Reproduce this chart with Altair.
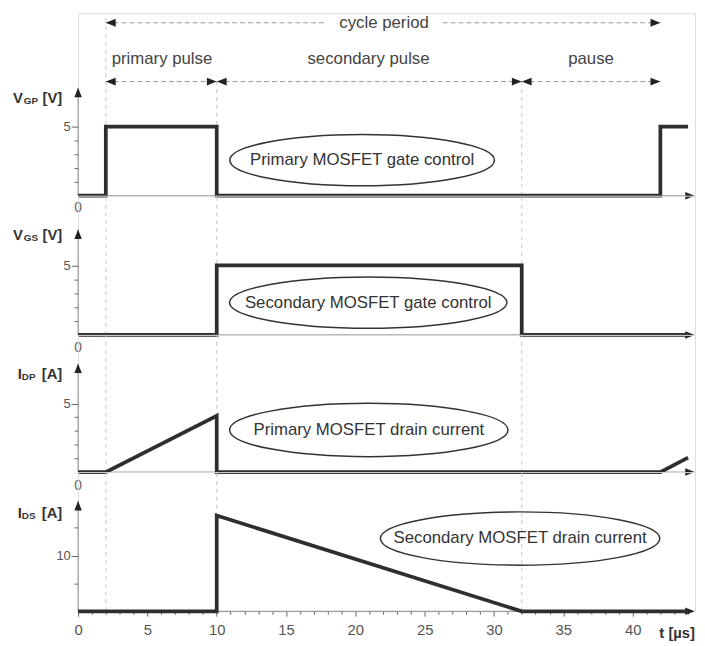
import altair as alt
import pandas as pd

FONT = "Liberation Sans"
X_MAX = 44.5
X_AXIS_END = 44.3
X_TICKS = list(range(0, 45))

# ---- signal waveforms (time in microseconds) ----
vgp_t = [0, 2, 2, 10, 10, 42, 42, 44]
vgp_v = [0, 0, 5, 5, 0, 0, 5, 5]
vgs_t = [0, 10, 10, 32, 32, 44]
vgs_v = [0, 0, 5, 5, 0, 0]
idp_t = [0, 2, 10, 10, 42, 44]
idp_a = [0, 0, 4.1, 0, 0, 1.05]
ids_t = [0, 10, 10, 32, 44]
ids_a = [0, 0, 17.2, 0, 0]

# ---- timing phases (header) ----
phase_edges = [2, 10, 32, 42]
phase_names = ["primary pulse", "secondary pulse", "pause"]
phase_label_x = [6.05, 20.95, 37.0]
cycle_name = "cycle period"
cycle_label_x = 22.07
cycle_gap = [17.8, 26.3]
hdr_cycle_y = 12.5
hdr_text_y = 9.85
hdr_phase_y = 8.25

# ---- panels ----
panel_ymax = [13.2, 10, 10, 25]
panel_height = [185, 141, 139, 141]
panel_ytip = [7.8, 7.57, 7.9, 19.8]
panel_yticks = [[1, 2, 3, 4, 5], [1, 2, 3, 4, 5], [1, 2, 3, 4, 5], [5, 10, 15]]
panel_ymajor = [5, 5, 5, 10]
panel_sym = ["V", "V", "I", "I"]
panel_sub = ["GP", "GS", "DP", "DS"]
panel_unit = ["[V]", "[V]", "[A]", "[A]"]
panel_label_y = [7.07, 7.14, 7.17, 17.68]
panel_note = ["Primary MOSFET gate control", "Secondary MOSFET gate control",
              "Primary MOSFET drain current", "Secondary MOSFET drain current"]
note_x = [20.49, 20.93, 20.97, 31.88]
note_y = [2.57, 2.32, 3.07, 13.07]
note_w = [268, 281, 282, 283]
note_h = [52, 52, 54, 54]
guide_x = [2, 10, 32]
guide_top_p1 = [12.9, 8.6, 8.6]

signals = [(vgp_t, vgp_v), (vgs_t, vgs_v), (idp_t, idp_a), (ids_t, ids_a)]

RIGHT = "M0,0L-2,-0.8L-2,0.8Z"
LEFT = "M0,0L2,-0.8L2,0.8Z"
UP = "M0,0L-0.8,2L0.8,2Z"


def ellipse_path(w, h):
    r = h / w
    k = 0.5523
    f = lambda v: f"{v:.4f}"
    return (f"M-1,0C-1,{f(-k*r)} {f(-k)},{f(-r)} 0,{f(-r)}"
            f"C{f(k)},{f(-r)} 1,{f(-k*r)} 1,0"
            f"C1,{f(k*r)} {f(k)},{f(r)} 0,{f(r)}"
            f"C{f(-k)},{f(r)} -1,{f(k*r)} -1,0Z")


def make_panel(k):
    ymax = panel_ymax[k]
    xs = alt.Scale(domain=[0, X_MAX], nice=False, zero=False)
    ys = alt.Scale(domain=[0, ymax], nice=False, zero=True)
    if k == 3:
        ax = alt.Axis(values=X_TICKS, labelExpr="datum.value % 5 == 0 ? datum.label : ''",
                      domain=False, grid=False, tickColor="#666",
                      tickSize={"condition": {"test": "datum.value % 5 == 0", "value": 5}, "value": 3},
                      labelFontSize=15, labelColor="#555", labelPadding=7, labelFlush=False,
                      labelOverlap=False, labelFont=FONT)
    else:
        ax = None
    major = panel_ymajor[k]
    ay = alt.Axis(values=panel_yticks[k], labelExpr=f"datum.value == {major} ? datum.label : ''",
                  domain=False, grid=False, tickColor="#666",
                  tickSize={"condition": {"test": f"datum.value == {major}", "value": 7}, "value": 4},
                  labelFontSize=13, labelColor="#555", labelPadding=1, labelOverlap=False,
                  labelFont=FONT)
    X = alt.X("x:Q", scale=xs, axis=ax, title=None)
    Y = alt.Y("y:Q", scale=ys, axis=ay, title=None)
    layers = []

    tops = guide_top_p1 if k == 0 else [ymax] * len(guide_x)
    g = pd.DataFrame({"x": guide_x, "y": [0] * len(guide_x), "y2": tops})
    layers.append(alt.Chart(g).mark_rule(color="#c4c4c4", strokeDash=[4, 4], strokeWidth=1)
                  .encode(x=X, y=Y, y2="y2:Q"))

    ytip = panel_ytip[k]
    axes = pd.DataFrame({"x": [0, 0], "y": [0, 0], "x2": [X_AXIS_END, 0], "y2": [0, ytip]})
    layers.append(alt.Chart(axes).mark_rule(color="#8a8a8a", strokeWidth=1)
                  .encode(x=X, y=Y, x2="x2:Q", y2="y2:Q"))
    layers.append(alt.Chart(pd.DataFrame({"x": [X_MAX - 0.03], "y": [0]}))
                  .mark_point(shape=RIGHT, size=90, filled=True, color="#222", opacity=1)
                  .encode(x=X, y=Y))
    layers.append(alt.Chart(pd.DataFrame({"x": [0], "y": [ytip]}))
                  .mark_point(shape=UP, size=90, filled=True, color="#222", opacity=1)
                  .encode(x=X, y=Y))

    t, v = signals[k]
    sig = pd.DataFrame({"x": t, "y": v, "i": list(range(len(t)))})
    layers.append(alt.Chart(sig).mark_line(color="#2e2e2e", strokeWidth=3.8, strokeJoin="miter")
                  .encode(x=X, y=Y, order="i:Q"))

    note = pd.DataFrame({"x": [note_x[k]], "y": [note_y[k]], "t": [panel_note[k]]})
    layers.append(alt.Chart(note).mark_point(shape=ellipse_path(note_w[k], note_h[k]),
                                             size=note_w[k] ** 2, filled=False, color="#333",
                                             strokeWidth=1.5, opacity=1)
                  .encode(x=X, y=Y))
    layers.append(alt.Chart(note).mark_text(font=FONT, fontSize=17, color="#333",
                                            align="center", baseline="middle")
                  .encode(x=X, y=Y, text="t:N"))

    lab = pd.DataFrame({"x": [0], "y": [panel_label_y[k]], "s": [panel_sym[k]],
                        "b": [panel_sub[k]], "u": [panel_unit[k]]})
    is_v = panel_sym[k] == "V"
    sym_dx = -66 if is_v else -61
    sub_dx = -55 if is_v else -57
    layers.append(alt.Chart(lab).mark_text(font=FONT, fontSize=15, fontWeight="bold", color="#333",
                                           align="left", baseline="middle", dx=sym_dx)
                  .encode(x=X, y=Y, text="s:N"))
    layers.append(alt.Chart(lab).mark_text(font=FONT, fontSize=10, fontWeight="bold", color="#333",
                                           align="left", baseline="middle", dx=sub_dx, dy=3)
                  .encode(x=X, y=Y, text="b:N"))
    layers.append(alt.Chart(lab).mark_text(font=FONT, fontSize=15, fontWeight="bold", color="#333",
                                           align="right", baseline="middle", dx=-16)
                  .encode(x=X, y=Y, text="u:N"))

    if k < 3:
        z = pd.DataFrame({"x": [0], "y": [0], "t": ["0"]})
        layers.append(alt.Chart(z).mark_text(font=FONT, fontSize=14, color="#666",
                                             align="center", baseline="middle",
                                             dy=13 if k < 2 else 14)
                      .encode(x=X, y=Y, text="t:N"))
    else:
        tl = pd.DataFrame({"x": [X_MAX], "y": [0], "t": ["t [µs]"]})
        layers.append(alt.Chart(tl).mark_text(font=FONT, fontSize=15, fontWeight="bold", color="#333",
                                              align="right", baseline="middle", dy=22)
                      .encode(x=X, y=Y, text="t:N"))

    if k == 0:
        segs = pd.DataFrame({
            "x": [phase_edges[0], cycle_gap[1]] + phase_edges[:-1],
            "x2": [cycle_gap[0], phase_edges[-1]] + phase_edges[1:],
            "y": [hdr_cycle_y, hdr_cycle_y] + [hdr_phase_y] * 3,
        })
        layers.append(alt.Chart(segs).mark_rule(color="#999", strokeDash=[5, 3], strokeWidth=1)
                      .encode(x=X, x2="x2:Q", y=Y))
        lefts = pd.DataFrame({"x": [phase_edges[0]] + phase_edges[:-1],
                              "y": [hdr_cycle_y] + [hdr_phase_y] * 3})
        rights = pd.DataFrame({"x": [phase_edges[-1]] + phase_edges[1:],
                               "y": [hdr_cycle_y] + [hdr_phase_y] * 3})
        layers.append(alt.Chart(lefts).mark_point(shape=LEFT, size=100, filled=True, color="#222", opacity=1)
                      .encode(x=X, y=Y))
        layers.append(alt.Chart(rights).mark_point(shape=RIGHT, size=100, filled=True, color="#222", opacity=1)
                      .encode(x=X, y=Y))
        htxt = pd.DataFrame({"x": [cycle_label_x] + phase_label_x,
                             "y": [hdr_cycle_y] + [hdr_text_y] * 3,
                             "t": [cycle_name] + phase_names})
        layers.append(alt.Chart(htxt).mark_text(font=FONT, fontSize=17, color="#444",
                                                align="center", baseline="middle")
                      .encode(x=X, y=Y, text="t:N"))

    return alt.layer(*layers).properties(width=625, height=panel_height[k])


chart = (alt.vconcat(*[make_panel(k) for k in range(4)], spacing=0, bounds="flush")
         .resolve_scale(x="independent", y="independent")
         .properties(padding={"left": 4, "top": 0, "right": 0, "bottom": 0})
         .configure_view(strokeWidth=0)
         .configure(font=FONT, background="white"))

chart.save("out.html", embed_options={"renderer": "svg", "actions": False})
